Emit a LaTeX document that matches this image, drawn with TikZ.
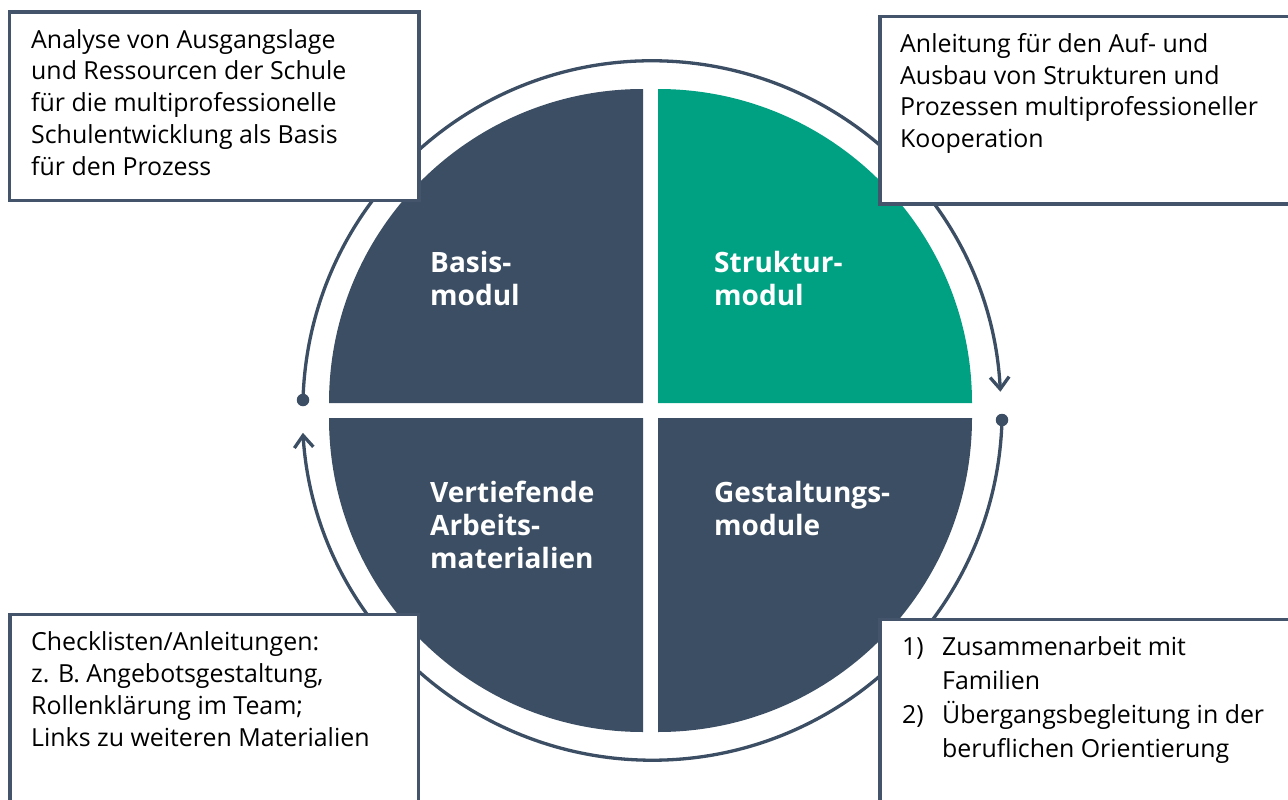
\documentclass[tikz,border=0pt]{standalone}
\usepackage{fontspec}
\setmainfont{Open Sans}
\usetikzlibrary{arrows.meta}
\definecolor{slate}{RGB}{59,78,99}
\definecolor{modgreen}{RGB}{0,160,130}
\definecolor{boxline}{RGB}{68,84,106}
\begin{document}
\begin{tikzpicture}[x=1pt,y=1pt,
  quad/.style={fill=slate},
  quadgreen/.style={fill=modgreen},
  infobox/.style={draw=boxline, line width=3.5pt, fill=white},
  infotext/.style={anchor=base west, align=left, inner sep=0pt,
    font=\fontsize{24.9}{31.75}\selectfont, text=black},
  modtext/.style={anchor=base west, align=left, inner sep=0pt,
    font=\bfseries\fontsize{28}{33}\selectfont, text=white},
  ring/.style={draw=slate, line width=3.3pt},
  ringdot/.style={circle, fill=slate, inner sep=0pt, minimum size=12.5pt},
  tip/.style={-{Straight Barb[length=12pt,width=19pt]}}]
\clip (0,0) rectangle (1288,-800);
\fill[white] (0,0) rectangle (1288,-800);

% quadrants
\fill[quad] (643,-403) -- (329,-403) arc[start angle=180, end angle=90, radius=314] -- cycle;
\fill[quadgreen] (658,-403) -- (658,-89) arc[start angle=90, end angle=0, radius=314] -- cycle;
\fill[quad] (643,-418) -- (643,-732) arc[start angle=270, end angle=180, radius=314] -- cycle;
\fill[quad] (658,-418) -- (972,-418) arc[start angle=0, end angle=-90, radius=314] -- cycle;

% ring
\node[ringdot] (dotL) at (303,-400) {};
\node[ringdot] (dotR) at (1002,-420) {};
\draw[ring, tip] (dotL.center) arc[start angle=178.4, end angle=2.96, radius=349];
\draw[ring, tip] (dotR.center) arc[start angle=-1.6, end angle=-176.3, radius=350];

% module labels (anchor = baseline of last line)
\node[modtext] (basis) at (430,-305) {Basis-\\modul};
\node[modtext] (struktur) at (714,-305) {Struktur-\\modul};
\node[modtext] (vertief) at (430,-568) {Vertiefende\\Arbeits-\\materialien};
\node[modtext] (gestalt) at (714,-535) {Gestaltungs-\\module};

% info boxes
\draw[infobox] (9.5,-12) rectangle (419,-200.5);
\draw[infobox] (880,-16.5) rectangle (1300,-204);
\draw[infobox] (10,-614.5) rectangle (418.5,-820);
\draw[infobox] (880,-619.5) rectangle (1300,-820);

\node[infotext] (txtTL) at (31,-175) {Analyse von Ausgangslage\\und Ressourcen der Schule\\für die multiprofessionelle\\Schulentwicklung als Basis\\für den Prozess};
\node[infotext] (txtTR) at (900,-147.5) {Anleitung für den Auf- und\\Ausbau von Strukturen und\\Prozessen multiprofessioneller\\Kooperation};
\node[infotext, font=\fontsize{24.9}{32}\selectfont] (txtBL) at (31,-746) {Checklisten/Anleitungen:\\z. B. Angebotsgestaltung,\\Rollenklärung im Team;\\Links zu weiteren Materialien};
\node[infotext] (num1) at (902,-655) {1)};
\node[infotext, font=\fontsize{24.9}{34.5}\selectfont] (item1) at (942,-689.5) {Zusammenarbeit mit\\Familien};
\node[infotext] (num2) at (902,-723.5) {2)};
\node[infotext, font=\fontsize{24.9}{34}\selectfont] (item2) at (942,-757.5) {Übergangsbegleitung in der\\beruflichen Orientierung};
\end{tikzpicture}
\end{document}
